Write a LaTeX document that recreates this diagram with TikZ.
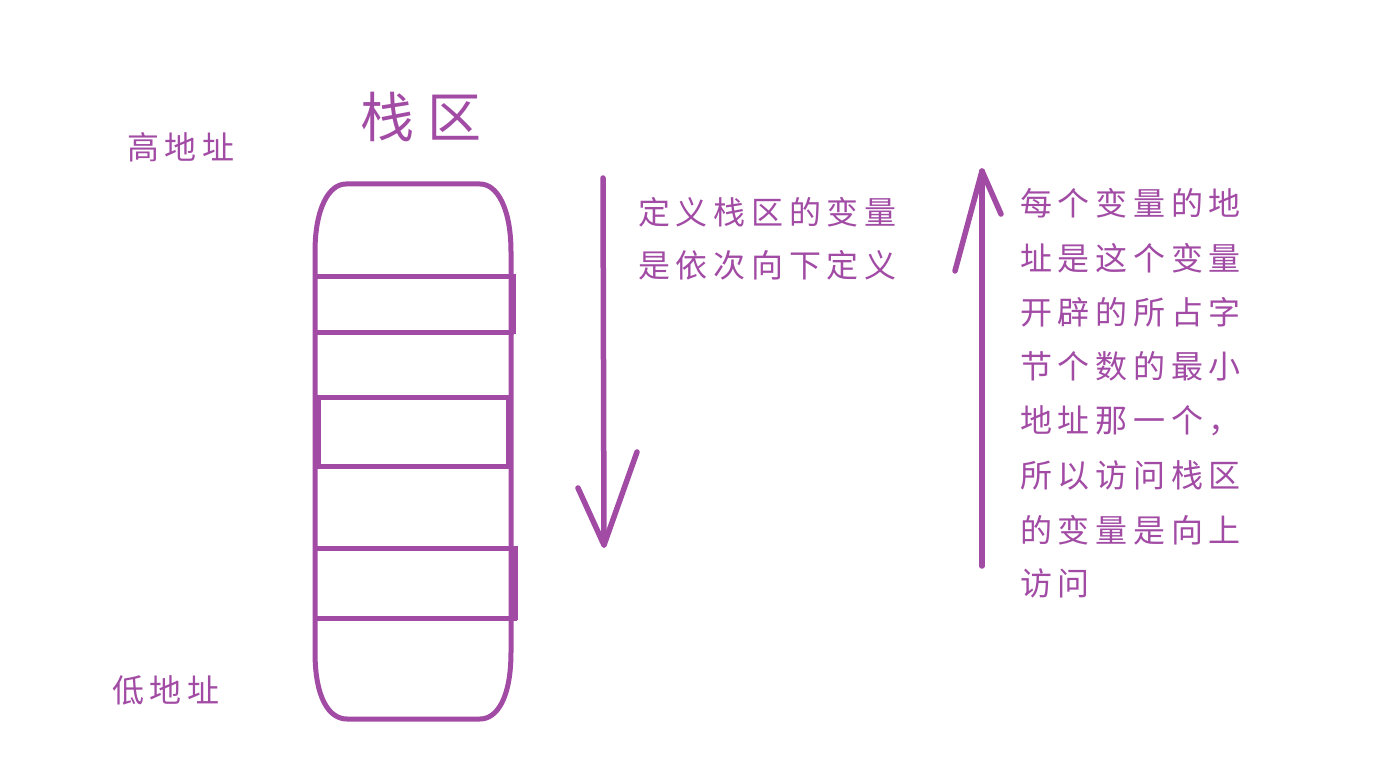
\documentclass[tikz,border=0pt]{standalone}
\usepackage{fontspec}
\newfontfamily\cjk[LetterSpace=18]{Noto Sans CJK SC}
\newfontfamily\cjkbig[LetterSpace=25]{Noto Sans CJK SC}
\definecolor{pen}{RGB}{162,75,165}
\tikzset{
  ink/.style={draw=pen, line width=5pt, line join=round},
  arrowline/.style={draw=pen, line width=5.5pt, line cap=round, line join=round},
  lbl/.style={text=pen, inner sep=0pt, anchor=west, font=\cjk\fontsize{32}{32}\selectfont},
  title/.style={text=pen, inner sep=0pt, anchor=west, font=\cjkbig\fontsize{54}{54}\selectfont}
}
\begin{document}
\begin{tikzpicture}[x=1pt,y=-1pt]
\useasboundingbox (0,0) rectangle (1393,773);
\fill[white] (0,0) rectangle (1393,773);
% stack outline
\draw[ink] (315,252) .. controls (315,208) and (329,184) .. (346,184) -- (480,184)
  .. controls (497,184) and (511,208) .. (511,252) -- (511,652)
  .. controls (511,698) and (497,719) .. (480,719) -- (347,719)
  .. controls (329,719) and (315,698) .. (315,652) -- cycle;
% cells
\coordinate (c1l) at (315,276); \coordinate (c1r) at (514,276);
\coordinate (c2l) at (315,332); \coordinate (c2r) at (514,332);
\coordinate (c3l) at (315,397); \coordinate (c3r) at (511,397);
\coordinate (c4l) at (315,466); \coordinate (c4r) at (511,466);
\coordinate (c5l) at (315,548); \coordinate (c5r) at (517,548);
\coordinate (c6l) at (315,618); \coordinate (c6r) at (517,618);
\draw[ink] (c1l) -- (c1r); \draw[ink] (c2l) -- (c2r);
\draw[ink] (c3l) -- (c3r); \draw[ink] (c4l) -- (c4r);
\draw[ink] (c5l) -- (c5r); \draw[ink] (c6l) -- (c6r);
\fill[pen] (509,274) rectangle (515.5,334);
\fill[pen] (313,395) rectangle (321,468);
\fill[pen] (506,395) rectangle (513,468);
\fill[pen] (509,546) rectangle (517.5,620);
% down arrow
\coordinate (d0) at (603,178);
\coordinate (d1) at (604,545);
\coordinate (dl) at (578,488);
\coordinate (dr) at (637,452);
\draw[arrowline] (d0) -- (d1);
\draw[arrowline] (dl) -- (d1) -- (dr);
% up arrow
\coordinate (u0) at (982,566);
\coordinate (u1) at (982,171);
\coordinate (ul) at (955,271);
\coordinate (ur) at (1001,214);
\draw[arrowline] (u0) -- (u1);
\draw[arrowline] (ul) -- (u1) -- (ur);
% labels
\node[title] (t) at (360,117) {栈区};
\node[lbl] (hi) at (127,147) {高地址};
\node[lbl] (lo) at (112,690) {低地址};
\node[lbl] (a1) at (638,212) {定义栈区的变量};
\node[lbl] (a2) at (638,265) {是依次向下定义};
\node[lbl] (b1) at (1020,203) {每个变量的地};
\node[lbl] (b2) at (1020,258) {址是这个变量};
\node[lbl] (b3) at (1020,312) {开辟的所占字};
\node[lbl] (b4) at (1020,366) {节个数的最小};
\node[lbl] (b5) at (1020,421) {地址那一个，};
\node[lbl] (b6) at (1020,475) {所以访问栈区};
\node[lbl] (b7) at (1020,530) {的变量是向上};
\node[lbl] (b8) at (1020,583) {访问};
\end{tikzpicture}
\end{document}
